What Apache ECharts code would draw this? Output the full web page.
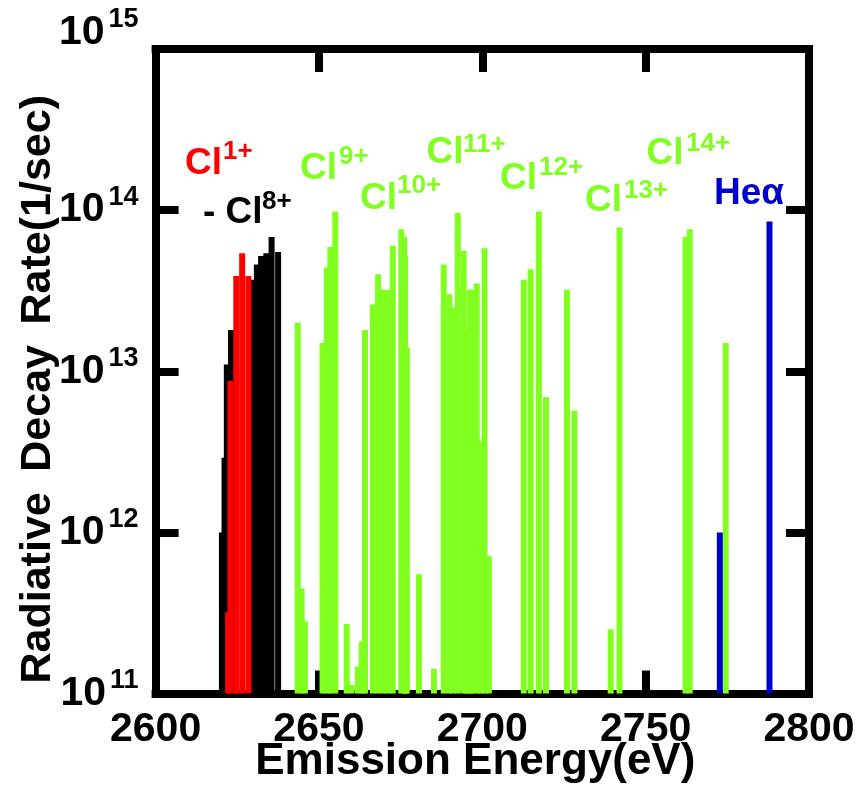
<!DOCTYPE html>
<html>
<head>
<meta charset="utf-8">
<script src="https://cdn.jsdelivr.net/npm/echarts@6/dist/echarts.min.js"></script>
<style>
  html, body { margin: 0; padding: 0; background: #fff; }
  #chart { width: 859px; height: 787px; }
</style>
</head>
<body>
<div id="chart"></div>
<script>
// 各价态的谱线: [能量 eV, 辐射衰变率 1/sec]
var lowLines = [
  [2620.3, 1.0e12], [2621.1, 2.9e12], [2621.8, 1.1e13], [2623.1, 1.8e13],
  [2629.4, 3.7e13], [2631.0, 4.6e13], [2632.3, 5.2e13], [2633.9, 5.4e13],
  [2635.5, 6.8e13], [2637.5, 5.5e13]
]
var cl1Lines = [
  [2622.2, 3.2e11], [2622.9, 8.7e12], [2624.7, 3.9e13], [2626.5, 5.4e13], [2628.4, 3.9e13]
]
var highLines = [
  [2643.5, 2.0e13], [2644.7, 4.5e11], [2645.7, 2.8e11],
  [2651.1, 1.5e13], [2652.4, 4.4e13], [2653.5, 5.9e13], [2655.0, 9.8e13],
  [2658.5, 2.7e11], [2660.0, 1.13e11], [2661.9, 1.47e11], [2663.1, 2.1e11],
  [2664.1, 1.8e13], [2666.5, 2.6e13], [2668.1, 4.0e13], [2669.7, 3.2e13],
  [2671.0, 3.2e13], [2672.6, 6.0e13], [2675.2, 7.6e13], [2676.1, 6.8e13],
  [2676.4, 5.2e13], [2676.9, 1.4e13], [2680.6, 5.5e11], [2685.2, 1.42e11],
  [2688.2, 4.6e13], [2689.9, 3.0e13], [2691.1, 2.5e13], [2692.5, 9.6e13],
  [2694.3, 5.6e13], [2695.4, 1.8e13], [2696.2, 3.2e13], [2696.8, 3.2e13],
  [2698.3, 3.5e13], [2699.6, 3.7e12], [2700.7, 5.8e13], [2702.0, 7.1e11],
  [2712.7, 3.7e13], [2714.8, 4.3e13], [2717.3, 9.8e13], [2719.5, 6.9e12],
  [2725.9, 3.2e13], [2728.2, 5.7e12],
  [2739.3, 2.5e11], [2742.0, 7.8e13],
  [2762.2, 6.8e13], [2763.5, 7.6e13], [2774.5, 1.5e13]
]
var heLines = [[2772.7, 1.0e12], [2787.9, 8.5e13]]

var ionLabels = [
  { ion: 'Cl', charge: '1+', color: '#ff0000', x: 185, y: 164, sx: 223, sy: 151.5 },
  { ion: '- Cl', charge: '8+', color: '#000000', x: 203, y: 212.5, sx: 262, sy: 201.5 },
  { ion: 'Cl', charge: '9+', color: '#80ff20', x: 300, y: 168.3, sx: 339, sy: 156.5 },
  { ion: 'Cl', charge: '10+', color: '#80ff20', x: 360, y: 199, sx: 397, sy: 185.5 },
  { ion: 'Cl', charge: '11+', color: '#80ff20', x: 426.5, y: 152.5, sx: 463, sy: 145 },
  { ion: 'Cl', charge: '12+', color: '#80ff20', x: 500, y: 179, sx: 539, sy: 167.5 },
  { ion: 'Cl', charge: '13+', color: '#80ff20', x: 585, y: 200.5, sx: 624, sy: 191 },
  { ion: 'Cl', charge: '14+', color: '#80ff20', x: 646.5, y: 154, sx: 686, sy: 143.5 },
  { ion: 'Heα', charge: '', color: '#0000cc', x: 714, y: 194, sx: 0, sy: 0 }
]

var font = "'Liberation Sans', Arial, Helvetica, sans-serif"
var chart = echarts.init(document.getElementById('chart'))

var graphics = []
ionLabels.forEach(function (l) {
  graphics.push({
    type: 'text', x: l.x, y: l.y, z: 100,
    style: { text: l.ion, fill: l.color, font: 'bold 37px ' + font, textAlign: 'left', textVerticalAlign: 'middle' }
  })
  if (l.charge) {
    graphics.push({
      type: 'text', x: l.sx, y: l.sy, z: 100,
      style: { text: l.charge, fill: l.color, font: 'bold 26px ' + font, textAlign: 'left', textVerticalAlign: 'middle' }
    })
  }
})

var frame = { show: true, lineStyle: { color: '#000', width: 8, cap: 'square' } }
var ticks = { show: true, inside: true, length: 23, lineStyle: { color: '#000', width: 8 } }
var lab = { fontFamily: font, fontWeight: 'bold', color: '#000' }

function barSeries(name, data, color) {
  return {
    name: name, type: 'bar', data: data, barWidth: 6, barGap: '-100%',
    clip: true, itemStyle: { color: color }, xAxisIndex: 0, yAxisIndex: 0
  }
}

chart.setOption({
  animation: false,
  backgroundColor: '#fff',
  grid: { left: 155.6, right: 50, top: 49, bottom: 93.5, containLabel: false, outerBoundsMode: 'none' },
  xAxis: [{
    type: 'value', min: 2600, max: 2800, interval: 50, position: 'bottom',
    axisLine: frame, axisTick: ticks, splitLine: { show: false },
    axisLabel: Object.assign({ fontSize: 41, margin: 16, formatter: function (v) { return String(v) } }, lab),
    name: 'Emission Energy(eV)', nameLocation: 'middle', nameGap: 46, nameMoveOverlap: false,
    nameTextStyle: Object.assign({ fontSize: 44, padding: [0, 14, 0, 0] }, lab)
  }, {
    type: 'value', min: 2600, max: 2800, interval: 50, position: 'top',
    axisLine: frame, axisTick: ticks, splitLine: { show: false }, axisLabel: { show: false }
  }],
  yAxis: [{
    type: 'log', logBase: 10, min: 1e11, max: 1e15, position: 'left',
    axisLine: frame, axisTick: ticks, splitLine: { show: false }, minorTick: { show: false },
    axisLabel: {
      margin: 17,
      formatter: function (v) {
        var e = Math.round(Math.log10(v))
        return e === 15 ? '{bt|10}{st|15}' : '{b|10}{s|' + e + '}'
      },
      rich: {
        b: Object.assign({ fontSize: 41 }, lab),
        s: Object.assign({ fontSize: 27, padding: [0, 0, 26, 4] }, lab),
        bt: Object.assign({ fontSize: 41, padding: [0, 0, 32, 0] }, lab),
        st: Object.assign({ fontSize: 27, padding: [0, 0, 58, 4] }, lab)
      }
    },
    name: 'Radiative\u2009 Decay\u2009 Rate(1/sec)', nameLocation: 'middle', nameGap: 96, nameMoveOverlap: false,
    nameTextStyle: Object.assign({ fontSize: 43, padding: [0, 36, 0, 0] }, lab)
  }, {
    type: 'log', logBase: 10, min: 1e11, max: 1e15, position: 'right',
    axisLine: frame, axisTick: ticks, splitLine: { show: false }, axisLabel: { show: false }
  }],
  series: [
    barSeries('Cl2+-Cl8+', lowLines, '#000000'),
    barSeries('Cl1+', cl1Lines, '#ff0000'),
    barSeries('Cl9+-Cl14+', highLines, '#80ff20'),
    barSeries('He alpha', heLines, '#0000cc')
  ],
  graphic: graphics
})
</script>
</body>
</html>
